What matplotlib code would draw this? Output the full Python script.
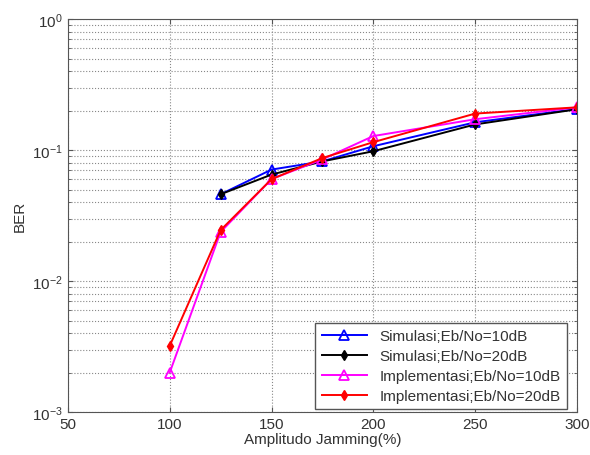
import numpy as np
import matplotlib
matplotlib.use("Agg")
import matplotlib.pyplot as plt
from matplotlib.ticker import LogLocator, NullFormatter

plt.rcParams['font.family'] = ['Liberation Sans', 'DejaVu Sans']

# data
x_sim = [125, 150, 175, 200, 250, 300]
x_imp = [100, 125, 150, 175, 200, 250, 300]
sim_10 = [0.046, 0.071, 0.082, 0.107, 0.163, 0.206]
sim_20 = [0.046, 0.065, 0.082, 0.098, 0.157, 0.205]
imp_10 = [0.0020, 0.0237, 0.060, 0.085, 0.128, 0.172, 0.212]
imp_20 = [0.0032, 0.0245, 0.060, 0.087, 0.115, 0.190, 0.212]

fig = plt.figure(figsize=(5.9, 4.56), dpi=100)
ax = fig.add_axes([0.115, 0.094, 0.863, 0.862])

ax.semilogy(x_sim, sim_10, color='blue', marker='^', mfc='none', ms=7, mew=1.3,
            lw=1.4, label='Simulasi;Eb/No=10dB')
ax.semilogy(x_sim, sim_20, color='black', marker='d', ms=5, lw=1.4,
            label='Simulasi;Eb/No=20dB')
ax.semilogy(x_imp, imp_10, color='magenta', marker='^', mfc='none', ms=7, mew=1.3,
            lw=1.4, label='Implementasi;Eb/No=10dB')
ax.semilogy(x_imp, imp_20, color='red', marker='d', ms=5, lw=1.4,
            label='Implementasi;Eb/No=20dB')

ax.set_xlim(50, 300)
ax.set_ylim(1e-3, 1)
ax.set_xticks([50, 100, 150, 200, 250, 300])
ax.yaxis.set_major_locator(LogLocator(base=10, numticks=10))
ax.yaxis.set_minor_locator(LogLocator(base=10, subs=np.arange(2, 10), numticks=20))
ax.yaxis.set_minor_formatter(NullFormatter())
ax.grid(True, which='major', ls=':', color='#888888', lw=0.8)
ax.grid(True, which='minor', axis='y', ls=':', color='#888888', lw=0.8)
ax.tick_params(direction='in', which='both', labelsize=11, labelcolor='#333333',
               top=True, right=True, color='#555555')
ax.tick_params(which='minor', length=2)
for s in ax.spines.values():
    s.set_color('#555555')

ax.set_xlabel('Amplitudo Jamming(%)', fontsize=11, labelpad=1, color='#333333')
ax.set_ylabel('BER', fontsize=11, color='#333333')

leg = ax.legend(loc='lower right', bbox_to_anchor=(0.98, 0.007), borderaxespad=0,
                fontsize=11, fancybox=False, framealpha=1, edgecolor='#555555',
                handlelength=3.0, labelspacing=0.4)
for t in leg.get_texts():
    t.set_color('#333333')

fig.savefig('out.png', dpi=100)
